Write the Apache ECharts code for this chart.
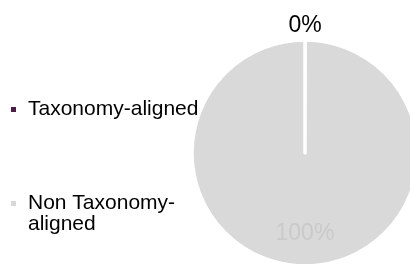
<!DOCTYPE html>
<html>
<head>
<meta charset="utf-8">
<script src="https://cdn.jsdelivr.net/npm/echarts@6/dist/echarts.min.js"></script>
<style>
    html, body { margin: 0; padding: 0; background: #ffffff; }
    #Chart { width: 410px; height: 264px; }
</style>
</head>
<body>
<div id="Chart"></div>
<script>
// data
let SliceNames = ["Taxonomy-aligned", "Non Taxonomy-aligned"]
let SliceValues = [0, 100]
let SliceLabels = ["0%", "100%"]
let SliceColors = ["#4b1d44", "#d9d9d9"]

let chart = echarts.init(document.getElementById("Chart"), null, { renderer: "canvas" })

let pieData = SliceNames.map(function (name, i) {
    return {
        name: name,
        value: SliceValues[i],
        itemStyle: { color: SliceColors[i] },
        label: i === 0
            ? { color: "#000000", fontSize: 23 }
            : { color: "#cacaca", fontSize: 23 }
    }
})

let options = {
    animation: false,
    legend: {
        orient: "vertical",
        left: 11,
        top: 95,
        padding: 0,
        itemGap: 44,
        icon: "rect",
        itemWidth: 5,
        itemHeight: 5,
        selectedMode: false,
        itemStyle: { borderWidth: 0 },
        formatter: function (name) {
            // blank first line keeps the marker level with the first text line
            return name === "Non Taxonomy-aligned" ? "\nNon Taxonomy-\naligned" : name
        },
        textStyle: {
            fontFamily: "Liberation Sans",
            fontSize: 21,
            lineHeight: 21,
            color: "#000000",
            padding: [8, 0, 0, 7]
        },
        data: SliceNames
    },
    series: [
        {
            type: "pie",
            center: [305, 153],
            radius: 113,
            startAngle: 90,
            clockwise: true,
            minAngle: 0.1,
            avoidLabelOverlap: false,
            silent: true,
            itemStyle: { borderColor: "#ffffff", borderWidth: 3.5 },
            label: {
                show: true,
                position: "inside",
                fontFamily: "Liberation Sans",
                formatter: function (p) { return SliceLabels[p.dataIndex] }
            },
            labelLine: { show: false },
            labelLayout: function (p) {
                return { dy: p.dataIndex === 0 ? -68 : 21 }
            },
            emphasis: { disabled: true },
            data: pieData
        }
    ]
}

chart.setOption(options)
</script>
</body>
</html>
